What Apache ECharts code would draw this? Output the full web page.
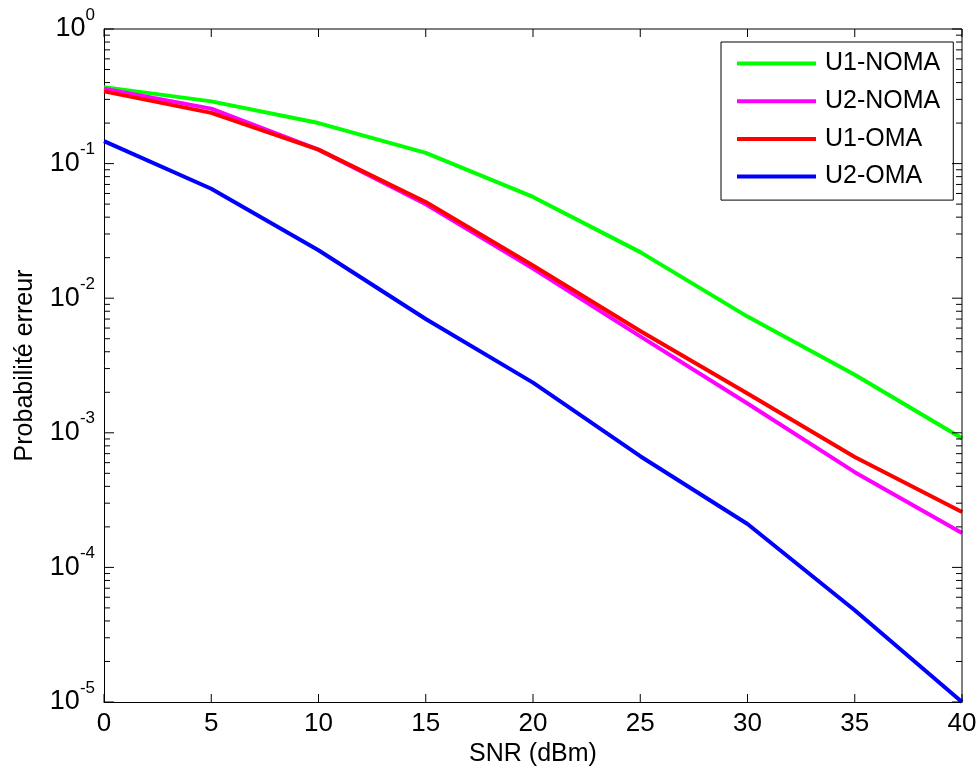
<!DOCTYPE html>
<html>
<head>
<meta charset="utf-8">
<script src="https://cdn.jsdelivr.net/npm/echarts@6/dist/echarts.min.js"></script>
<style>
  html, body { margin: 0; padding: 0; background: #fff; }
  #chart { width: 979px; height: 775px; }
</style>
</head>
<body>
<div id="chart"></div>
<script>
// SNR values (dBm)
var snr = [0, 5, 10, 15, 20, 25, 30, 35, 40];

// error probabilities
var u1Noma = [0.37, 0.29, 0.2, 0.12, 0.0565, 0.022, 0.0073, 0.0027, 0.00091];
var u2Noma = [0.36, 0.256, 0.127, 0.0499, 0.0166, 0.0052, 0.00165, 0.00051, 0.00018];
var u1Oma = [0.344, 0.238, 0.127, 0.0519, 0.0175, 0.0057, 0.00196, 0.00066, 0.000258];
var u2Oma = [0.147, 0.065, 0.0227, 0.007, 0.00236, 0.00067, 0.00021, 0.000048, 0.00001];

var seriesNames = ['U1-NOMA', 'U2-NOMA', 'U1-OMA', 'U2-OMA'];
var seriesColors = ['#00ff00', '#ff00ff', '#ff0000', '#0000ff'];

// decades and the minor ticks in between
var decades = [1e-5, 1e-4, 1e-3, 1e-2, 1e-1, 1];
var minorTicks = [];
for (var d = 0; d < decades.length - 1; d++) {
    for (var k = 2; k <= 9; k++) {
        minorTicks.push(+(decades[d] * k).toPrecision(3));
    }
}
var xTicks = [0, 5, 10, 15, 20, 25, 30, 35, 40];

function pairs(ys) {
    var out = [];
    for (var i = 0; i < snr.length; i++) out.push([snr[i], ys[i]]);
    return out;
}

var chart = echarts.init(document.getElementById('chart'));
var font = 'Liberation Sans, Arial, sans-serif';

function decadeLabel(v) {
    var e = Math.round(Math.log(v) / Math.LN10);
    return '{b|10}{s|' + e + '}';
}

var option = {
    animation: false,
    backgroundColor: '#fff',
    grid: { left: 104, right: 17, top: 29, bottom: 73, outerBoundsMode: 'none' },
    legend: {
        orient: 'vertical',
        left: 721,
        top: 42,
        padding: [9, 13, 11, 16],
        icon: 'rect',
        itemWidth: 79,
        itemHeight: 4,
        itemGap: 12.7,
        borderColor: '#000',
        borderWidth: 1,
        backgroundColor: '#fff',
        textStyle: { fontFamily: font, fontSize: 25, lineHeight: 25, color: '#000', padding: [0, 0, 0, 4] },
        data: seriesNames
    },
    xAxis: {
        type: 'value',
        min: 0,
        max: 40,
        interval: 5,
        name: 'SNR (dBm)',
        nameLocation: 'middle',
        nameGap: 34,
        nameTextStyle: { fontFamily: font, fontSize: 25, color: '#000' },
        splitLine: { show: false },
        axisLine: { show: true, onZero: false, lineStyle: { color: '#000', width: 1 } },
        axisTick: { show: false },
        axisLabel: { fontFamily: font, fontSize: 26, color: '#000', margin: 9 }
    },
    yAxis: {
        type: 'log',
        logBase: 10,
        min: 1e-5,
        max: 1,
        name: 'Probabilité erreur',
        nameLocation: 'middle',
        nameGap: 66,
        nameTextStyle: { fontFamily: font, fontSize: 25, color: '#000' },
        splitLine: { show: false },
        axisLine: { show: true, onZero: false, lineStyle: { color: '#000', width: 1 } },
        axisTick: { show: false },
        axisLabel: {
            customValues: decades,
            margin: 9,
            formatter: decadeLabel,
            rich: {
                b: { fontFamily: font, fontSize: 27, color: '#000', lineHeight: 27 },
                s: { fontFamily: font, fontSize: 17, color: '#000', lineHeight: 17, padding: [0, 0, 28, 0] }
            }
        }
    },
    series: [u1Noma, u2Noma, u1Oma, u2Oma].map(function (ys, i) {
        return {
            name: seriesNames[i],
            type: 'line',
            data: pairs(ys),
            symbol: 'none',
            color: seriesColors[i],
            lineStyle: { color: seriesColors[i], width: 4 },
            z: 3 + i
        };
    })
};

chart.setOption(option);

// inward ticks on all four sides and the plot box, placed through the axes
function px(x, y) { return chart.convertToPixel({ gridIndex: 0 }, [x, y]); }
var tickStyle = { stroke: '#000', lineWidth: 1 };
var marks = [];
function addLine(a, b) {
    marks.push({ type: 'line', shape: { x1: a[0], y1: a[1], x2: b[0], y2: b[1] }, style: tickStyle, z: 50, silent: true });
}
var tl = px(0, 1), br = px(40, 1e-5);
addLine([tl[0], tl[1]], [br[0], tl[1]]);
addLine([br[0], tl[1]], [br[0], br[1]]);
xTicks.forEach(function (v) {
    var p = px(v, 1e-5), q = px(v, 1);
    addLine([p[0], p[1]], [p[0], p[1] - 8]);
    addLine([q[0], q[1]], [q[0], q[1] + 8]);
});
decades.forEach(function (v) {
    var p = px(0, v), q = px(40, v);
    addLine([p[0], p[1]], [p[0] + 10, p[1]]);
    addLine([q[0], q[1]], [q[0] - 10, q[1]]);
});
minorTicks.forEach(function (v) {
    var p = px(0, v), q = px(40, v);
    addLine([p[0], p[1]], [p[0] + 6, p[1]]);
    addLine([q[0], q[1]], [q[0] - 6, q[1]]);
});
chart.setOption({ graphic: { elements: marks } });
</script>
</body>
</html>
